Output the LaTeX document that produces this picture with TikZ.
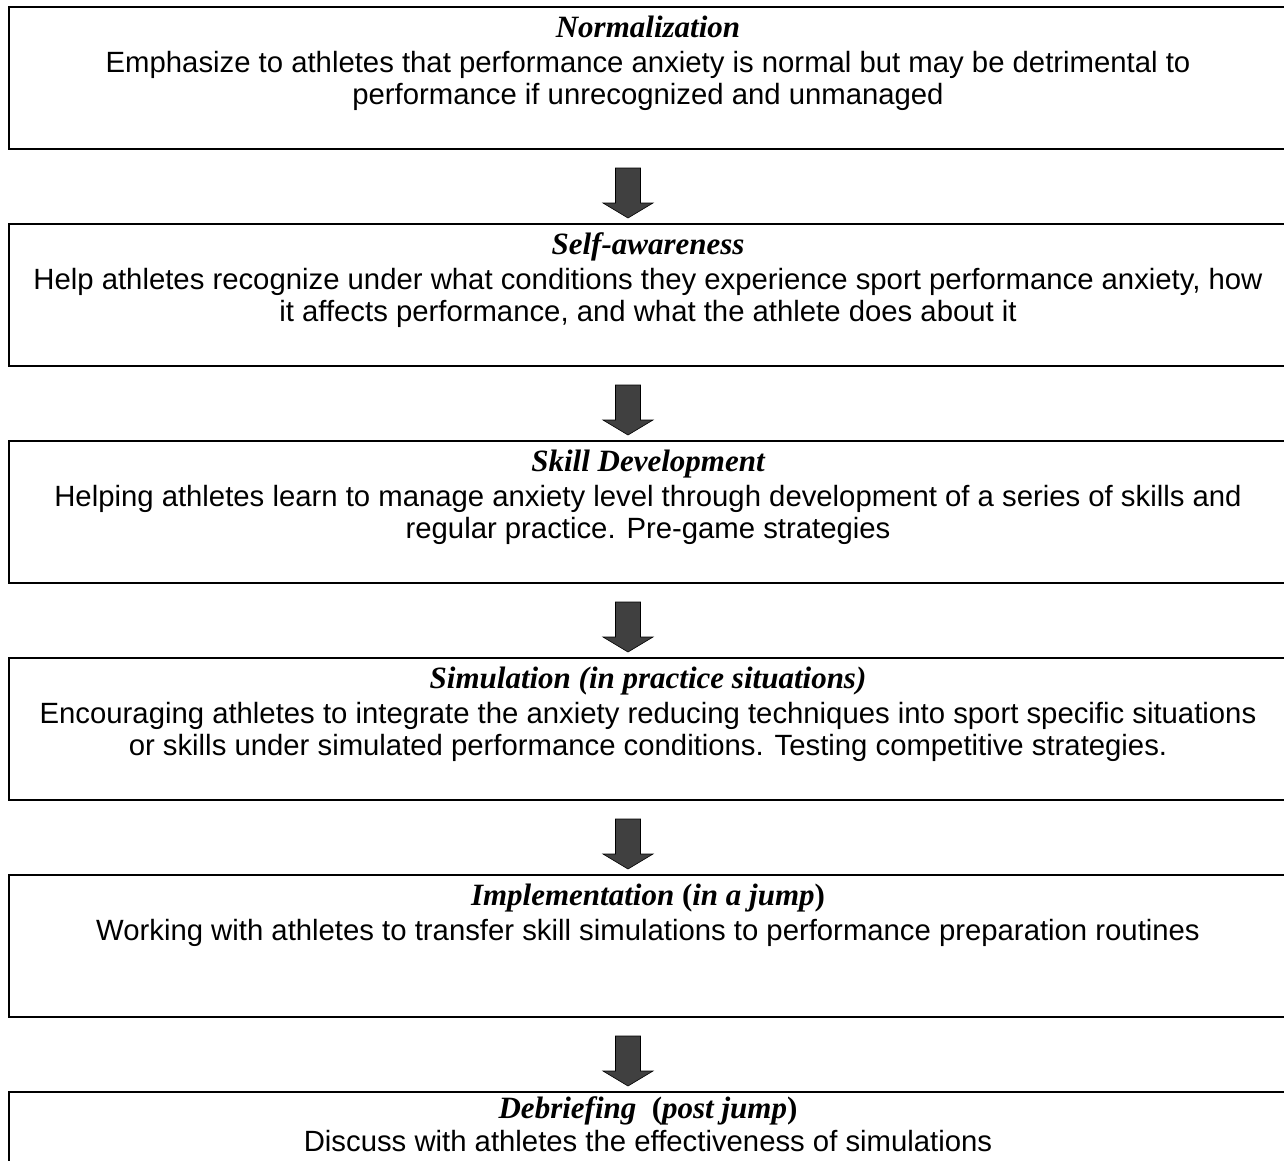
\documentclass[tikz,border=0pt]{standalone}
\usepackage{fontspec}
\setmainfont{Liberation Sans}
\newfontfamily\tnr{Liberation Serif}
\usetikzlibrary{calc}
\tikzset{
  stagebox/.style={draw=black, line width=2.8pt, minimum width=1290pt, minimum height=142pt,
    anchor=north west, inner sep=0pt, outer sep=0pt},
  ttl/.style={anchor=base, inner sep=0pt, font=\tnr\bfseries\itshape\fontsize{31}{34}\selectfont},
  bodyline/.style={anchor=base, inner sep=0pt, font=\fontsize{29.3}{31}\selectfont},
  blockarrow/.style={fill=black!75, draw=black, line width=0.6pt},
}
\newcommand{\stagearrow}[2]{%
  \path[blockarrow] let \p1=($(#1.south west)+(619,0)$), \p2=(#2.north) in
    (\x1-12.5pt,\y1-19pt) -- (\x1+12.5pt,\y1-19pt) -- (\x1+12.5pt,\y2+21pt) --
    (\x1+25pt,\y2+21pt) -- (\x1,\y2+6pt) -- (\x1-25pt,\y2+21pt) --
    (\x1-12.5pt,\y2+21pt) -- cycle;}
\begin{document}
\begin{tikzpicture}[x=1pt,y=1pt]
\useasboundingbox (0,0) rectangle (1284,-1160);
\clip (0,0) rectangle (1284,-1160);
\fill[white] (0,0) rectangle (1284,-1160);
\foreach \k in {1,...,6} {
  \node[stagebox] (b\k) at (9,{-7-217*(\k-1)}) {};
}
% box 1
\node[ttl] (t1) at (648,{-7-30}) {Normalization};
\node[bodyline] (d1a) at (648,{-7-65}) {Emphasize to athletes that performance anxiety is normal but may be detrimental to};
\node[bodyline] (d1b) at (648,{-7-97}) {performance if unrecognized and unmanaged};
% box 2
\node[ttl] (t2) at (648,{-224-30}) {Self-awareness};
\node[bodyline] (d2a) at (648,{-224-65}) {Help athletes recognize under what conditions they experience sport performance anxiety, how};
\node[bodyline] (d2b) at (648,{-224-97}) {it affects performance, and what the athlete does about it};
% box 3
\node[ttl] (t3) at (648,{-441-30}) {Skill Development};
\node[bodyline] (d3a) at (648,{-441-65}) {Helping athletes learn to manage anxiety level through development of a series of skills and};
\node[bodyline] (d3b) at (648,{-441-97}) {regular practice. Pre-game strategies};
% box 4
\node[ttl] (t4) at (648,{-658-30}) {Simulation (in practice situations)};
\node[bodyline] (d4a) at (648,{-658-65}) {Encouraging athletes to integrate the anxiety reducing techniques into sport specific situations};
\node[bodyline] (d4b) at (648,{-658-97}) {or skills under simulated performance conditions. Testing competitive strategies.};
% box 5
\node[ttl] (t5) at (648,{-875-30}) {Implementation {\upshape(}in a jump{\upshape)}};
\node[bodyline] (d5a) at (648,{-875-65}) {Working with athletes to transfer skill simulations to performance preparation routines};
% box 6
\node[ttl] (t6) at (648,{-1092-26}) {Debriefing\ \ {\upshape(}post jump{\upshape)}};
\node[bodyline] (d6a) at (648,{-1092-59}) {Discuss with athletes the effectiveness of simulations};
\stagearrow{b1}{b2}
\stagearrow{b2}{b3}
\stagearrow{b3}{b4}
\stagearrow{b4}{b5}
\stagearrow{b5}{b6}
\end{tikzpicture}
\end{document}
